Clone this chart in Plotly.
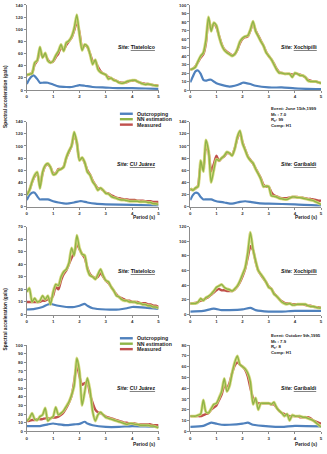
import plotly.graph_objects as go

# Periods (s) of the 0.1 s spectral grid used by measured / NN records
PERIODS = [round(i * 0.1, 1) for i in range(51)]

# ---------------- June 15th, 1999 event ----------------
# Tlatelolco
tla99_nn = [25, 26, 27, 45, 49, 71, 53, 61, 48, 45, 48, 57, 64, 75, 64, 78, 81, 88, 102, 124,
            91, 65, 75, 72, 59, 42, 50, 34, 29, 27, 25, 18, 20, 16, 15, 12, 11, 12, 14, 15,
            16, 16, 14, 12, 10, 9, 10, 9, 8, 7, 7]
tla99_meas = [24, 26, 28, 42, 48, 65, 55, 58, 50, 46, 47, 54, 60, 70, 66, 74, 80, 86, 98, 112,
              95, 70, 73, 71, 60, 48, 47, 38, 31, 27, 25, 21, 19, 17, 15, 13, 12, 12, 13, 15,
              15, 16, 14, 12, 11, 10, 10, 9, 8, 8, 7]
tla99_out_T = [0, 0.1, 0.2, 0.25, 0.3, 0.4, 0.5, 0.6, 0.8, 1.0, 1.2, 1.5, 1.7, 1.9, 2.0, 2.2, 2.5, 3.0, 3.5, 4.0, 4.5, 5.0]
tla99_out = [10, 18, 23, 24, 23, 18, 12, 12, 12, 9, 6, 5, 5, 7, 8, 7, 5, 4, 3, 3, 2.5, 2]

# Xochipilli
xoc99_nn = [24, 25, 27, 34, 40, 44, 59, 86, 69, 79, 76, 63, 53, 47, 44, 42, 40, 42, 48, 57,
            61, 63, 64, 71, 81, 69, 63, 57, 52, 44, 40, 36, 30, 24, 20, 20, 19, 19, 19, 15,
            20, 19, 17, 17, 15, 11, 10, 10, 10, 9, 8]
xoc99_meas = [24, 25, 28, 33, 38, 42, 55, 84, 72, 78, 74, 64, 54, 48, 45, 43, 41, 42, 47, 55,
              60, 62, 63, 70, 79, 70, 64, 58, 52, 45, 40, 36, 31, 25, 21, 20, 19, 19, 19, 18,
              19, 19, 18, 17, 15, 12, 11, 10, 10, 9, 8]
xoc99_out_T = [0, 0.1, 0.2, 0.3, 0.4, 0.5, 0.6, 0.7, 0.8, 0.9, 1.0, 1.2, 1.5, 1.7, 1.9, 2.0, 2.1, 2.3, 2.5, 3.0, 3.5, 4.0, 5.0]
xoc99_out = [9, 16, 22, 23, 19, 12, 11, 12, 12, 10, 8, 6, 4, 5, 7, 8.5, 8.5, 7, 5, 3, 3, 2, 1]

# CU Juárez
cuj99_nn = [19, 27, 41, 52, 57, 30, 57, 68, 71, 65, 53, 54, 60, 62, 65, 81, 92, 100, 123, 106,
            76, 81, 73, 57, 52, 41, 35, 27, 31, 27, 22, 21, 17, 15, 14, 12, 11, 11, 10, 9,
            9, 9, 9, 8, 8, 8, 7, 7, 5, 5, 4]
cuj99_meas = [20, 27, 40, 50, 55, 35, 55, 67, 70, 65, 55, 55, 62, 62, 66, 80, 90, 100, 118, 105,
              78, 80, 72, 60, 53, 43, 36, 30, 30, 27, 23, 22, 19, 17, 15, 14, 13, 12, 12, 11,
              11, 11, 10, 10, 10, 9, 9, 9, 8, 8, 8]
cuj99_out_T = [0, 0.1, 0.2, 0.3, 0.4, 0.5, 0.6, 0.8, 1.0, 1.2, 1.5, 1.8, 2.0, 2.1, 2.3, 2.6, 3.0, 4.0, 5.0]
cuj99_out = [11, 19, 23, 23, 17, 12, 12, 12, 9, 7, 5, 7, 9, 9, 7, 5, 4, 3, 2]

# Garibaldi
gar99_nn = [30, 27, 31, 33, 76, 58, 110, 92, 40, 60, 78, 76, 80, 84, 90, 88, 84, 95, 115, 125,
            104, 93, 82, 76, 72, 62, 54, 45, 33, 34, 33, 18, 17, 16, 14, 13, 12, 12, 14, 16,
            16, 15, 15, 14, 13, 12, 11, 10, 8, 6, 4]
gar99_meas = [28, 28, 30, 35, 70, 62, 100, 90, 58, 70, 84, 75, 80, 83, 88, 88, 85, 96, 112, 122,
              106, 94, 83, 77, 71, 63, 55, 47, 36, 33, 33, 24, 19, 17, 15, 14, 14, 14, 15, 16,
              16, 16, 15, 15, 14, 13, 13, 12, 11, 10, 10]
gar99_out_T = [0, 0.1, 0.2, 0.3, 0.4, 0.5, 0.6, 0.8, 1.0, 1.3, 1.6, 1.9, 2.1, 2.3, 2.6, 3.0, 4.0, 5.0]
gar99_out = [11, 19, 23, 22, 16, 12, 12, 12, 9, 7, 5, 8, 9, 8, 6, 5, 4, 2]

# ---------------- October 9th, 1995 event ----------------
# Tlatelolco
tla95_nn = [18, 21, 10, 13, 10, 11, 15, 12, 15, 8, 18, 24, 23, 30, 34, 36, 41, 53, 47, 63,
            53, 48, 47, 36, 31, 30, 28, 32, 36, 31, 27, 26, 22, 19, 15, 14, 12, 11, 11, 10,
            10, 10, 9, 9, 8, 8, 7, 7, 6, 6, 5]
tla95_meas = [10, 10, 10, 10, 10, 10, 11, 11, 12, 12, 15, 22, 20, 27, 32, 35, 40, 45, 49, 56,
              52, 48, 45, 37, 32, 30, 29, 30, 33, 30, 27, 25, 22, 19, 16, 14, 13, 12, 11, 11,
              10, 10, 10, 9, 9, 9, 8, 8, 7, 7, 6]
tla95_out_T = [0, 0.3, 0.6, 0.8, 0.9, 1.0, 1.2, 1.5, 1.8, 2.0, 2.2, 2.3, 2.5, 3.0, 3.5, 3.8, 4.0, 4.5, 5.0]
tla95_out = [4, 4.5, 6, 8, 8.5, 8, 7, 6, 6, 7, 8.5, 7, 5, 4, 4, 5, 6, 5.5, 4.5]

# Xochipilli
xoc95_nn = [15, 15, 15, 17, 22, 19, 23, 25, 28, 32, 37, 39, 41, 37, 35, 34, 32, 35, 39, 46,
            55, 64, 85, 112, 89, 73, 60, 55, 50, 44, 37, 35, 28, 25, 21, 17, 15, 14, 15, 13,
            13, 14, 14, 14, 14, 12, 11, 11, 10, 9, 9]
xoc95_meas = [15, 15, 16, 17, 19, 20, 22, 24, 27, 30, 33, 35, 33, 33, 32, 32, 32, 34, 38, 44,
              52, 62, 78, 93, 88, 72, 60, 54, 49, 44, 38, 35, 29, 25, 21, 18, 16, 15, 15, 14,
              14, 14, 14, 14, 13, 12, 12, 11, 10, 10, 9]
xoc95_out_T = [0, 0.5, 0.9, 1.2, 1.5, 2.0, 2.3, 2.5, 3.0, 3.5, 4.0, 5.0]
xoc95_out = [4, 5, 8, 6, 6, 7, 9, 6, 4, 4, 5, 5]

# CU Juárez
cuj95_nn = [12, 15, 21, 14, 13, 17, 19, 27, 12, 15, 17, 28, 19, 21, 24, 29, 34, 42, 53, 85,
            70, 30, 46, 62, 48, 23, 12, 19, 22, 19, 16, 15, 14, 13, 12, 11, 10, 9, 8, 9,
            9, 8, 8, 7, 7, 7, 7, 6, 6, 5, 4]
cuj95_meas = [12, 12, 13, 13, 14, 14, 14, 15, 15, 15, 16, 16, 17, 19, 22, 27, 33, 41, 58, 77,
              64, 54, 56, 57, 43, 33, 25, 22, 21, 19, 17, 16, 15, 14, 13, 12, 11, 10, 10, 9,
              9, 9, 8, 8, 8, 8, 8, 8, 7, 7, 7]
cuj95_out_T = [0, 0.5, 0.8, 1.0, 1.2, 1.5, 1.8, 2.0, 2.2, 2.3, 2.5, 3.0, 3.5, 4.0, 4.5, 5.0]
cuj95_out = [6, 6, 8, 9, 8, 7, 8, 8.5, 11, 9, 7, 5, 5, 6, 5.5, 5]

# Garibaldi
gar95_nn = [14, 14, 14, 15, 16, 29, 18, 17, 21, 25, 26, 31, 37, 49, 37, 42, 54, 64, 70, 62,
            60, 58, 54, 46, 25, 31, 20, 26, 26, 26, 26, 25, 27, 22, 19, 17, 14, 16, 10, 15,
            14, 14, 14, 13, 13, 12, 11, 10, 8, 6, 4]
gar95_meas = [14, 14, 14, 14, 14, 15, 16, 17, 20, 22, 24, 29, 34, 42, 40, 45, 54, 61, 64, 62,
              60, 57, 51, 40, 31, 28, 26, 26, 26, 26, 26, 25, 25, 22, 19, 17, 16, 15, 14, 14,
              14, 14, 13, 13, 13, 13, 12, 10, 9, 8, 7]
gar95_out_T = [0, 0.5, 0.8, 1.0, 1.2, 1.5, 2.0, 2.2, 2.4, 3.0, 3.5, 4.0, 5.0]
gar95_out = [4, 5, 8, 7, 6, 6, 7, 8, 6, 4.5, 4, 5, 4.5]

SITES = ["Tlatelolco", "Xochipilli", "CU Juárez", "Garibaldi",
         "Tlatelolco", "Xochipilli", "CU Juárez", "Garibaldi"]
Y_MAX = [140, 100, 140, 140, 70, 120, 100, 80]
Y_STEP = [20, 10, 20, 20, 10, 20, 10, 10]
LEGEND_NAMES = ["Outcropping", "NN estimation", "Measured"]
EVENT_JUNE = ["Event: June 15th,1999", "M<sub>s</sub> : 7.0", "R<sub>e</sub>: 99", "Comp: H1"]
EVENT_OCT = ["Event: October 9th,1995", "M<sub>s</sub> : 7.9", "R<sub>e</sub>: 8", "Comp: H1"]
Y_TITLE = "Spectral acceleration (gals)"
X_TITLE = "Period (s)"

panels = [
    (tla99_nn, tla99_meas, tla99_out_T, tla99_out),
    (xoc99_nn, xoc99_meas, xoc99_out_T, xoc99_out),
    (cuj99_nn, cuj99_meas, cuj99_out_T, cuj99_out),
    (gar99_nn, gar99_meas, gar99_out_T, gar99_out),
    (tla95_nn, tla95_meas, tla95_out_T, tla95_out),
    (xoc95_nn, xoc95_meas, xoc95_out_T, xoc95_out),
    (cuj95_nn, cuj95_meas, cuj95_out_T, cuj95_out),
    (gar95_nn, gar95_meas, gar95_out_T, gar95_out),
]

W, H = 327, 454
BLUE = "#4f81bd"
GREEN = "#8fb447"
HALO = "#d6d97a"
RED = "#c0504d"
FONT = "Liberation Sans, Arial, sans-serif"

# plot-area boxes in pixels: (left, right, top, bottom)
COLS = [(26, 159), (191, 323)]
ROWS = [(3, 89), (121, 207), (227, 316), (347, 434)]

fig = go.Figure()
layout = dict(width=W, height=H, margin=dict(l=0, r=0, t=0, b=0), autosize=False,
              paper_bgcolor="white", plot_bgcolor="white", showlegend=False,
              font=dict(family=FONT, color="#222"))
annotations = []
shapes = []

for i, (nn, meas, out_T, out) in enumerate(panels):
    r, c = divmod(i, 2)
    xl, xr = COLS[c]
    yt, yb = ROWS[r]
    n = i + 1
    xa = "x" if n == 1 else f"x{n}"
    ya = "y" if n == 1 else f"y{n}"
    xkey = "xaxis" if n == 1 else f"xaxis{n}"
    ykey = "yaxis" if n == 1 else f"yaxis{n}"
    axis_common = dict(showline=True, linecolor="#8c8c8c", linewidth=1, ticks="outside",
                       ticklen=2, tickcolor="#8c8c8c", showgrid=False, zeroline=False,
                       tickfont=dict(size=4.4, family=FONT, color="#333", weight="bold"),
                       fixedrange=True)
    layout[xkey] = dict(domain=[xl / W, xr / W], anchor=ya, range=[0, 5], tick0=0, dtick=1,
                        **axis_common)
    layout[ykey] = dict(domain=[1 - yb / H, 1 - yt / H], anchor=xa, range=[0, Y_MAX[i]],
                        tick0=0, dtick=Y_STEP[i], **axis_common)

    fig.add_trace(go.Scatter(x=out_T, y=out, xaxis=xa, yaxis=ya, mode="lines",
                             line=dict(color=BLUE, width=2.2, shape="spline", smoothing=0.6),
                             name=LEGEND_NAMES[0]))
    fig.add_trace(go.Scatter(x=PERIODS, y=meas, xaxis=xa, yaxis=ya, mode="lines",
                             line=dict(color=RED, width=2.4, shape="spline", smoothing=0.6),
                             name=LEGEND_NAMES[2]))
    # light halo under the NN curve
    fig.add_trace(go.Scatter(x=PERIODS, y=nn, xaxis=xa, yaxis=ya, mode="lines",
                             line=dict(color=HALO, width=3.0, shape="spline", smoothing=0.6),
                             opacity=0.9, name=LEGEND_NAMES[1], hoverinfo="skip"))
    fig.add_trace(go.Scatter(x=PERIODS, y=nn, xaxis=xa, yaxis=ya, mode="lines",
                             line=dict(color=GREEN, width=1.4, shape="spline", smoothing=0.6),
                             name=LEGEND_NAMES[1]))

    # site label: italic tag + underlined name
    annotations.append(dict(
        x=0.985, y=0.5, xref=f"{xa} domain", yref=f"{ya} domain", xanchor="right",
        yanchor="middle", showarrow=False,
        text=f"<i>Site:</i> <u>{SITES[i]}</u>",
        font=dict(size=5.2, family=FONT, color="#111", weight="bold")))

# "Period (s)" labels under rows 2 and 4
for yb_px in (218, 447):
    for (xl, xr) in COLS:
        annotations.append(dict(x=(xr - 1) / W, y=1 - yb_px / H, xref="paper", yref="paper",
                                xanchor="right", yanchor="middle", showarrow=False,
                                text=X_TITLE,
                                font=dict(size=4.8, family=FONT, color="#222", weight="bold")))

# vertical axis titles
for yc in (95, 320):
    annotations.append(dict(x=5 / W, y=1 - yc / H, xref="paper", yref="paper",
                            xanchor="center", yanchor="middle", showarrow=False, textangle=-90,
                            text=Y_TITLE,
                            font=dict(size=4.8, family=FONT, color="#222", weight="bold")))

# event descriptions
for y_top, lines in ((103, EVENT_JUNE), (333, EVENT_OCT)):
    annotations.append(dict(x=270 / W, y=1 - y_top / H, xref="paper", yref="paper",
                            xanchor="left", yanchor="top", showarrow=False, align="left",
                            text="<br>".join(lines),
                            font=dict(size=4.3, family=FONT, color="#222", weight="bold")))

# hand-drawn legends (one per event)
for y0 in (113, 340):
    for k, (name, col) in enumerate(zip(LEGEND_NAMES, (BLUE, GREEN, RED))):
        yy = 1 - (y0 + k * 5.5) / H
        shapes.append(dict(type="line", xref="paper", yref="paper", x0=120 / W, x1=133 / W,
                           y0=yy, y1=yy, line=dict(color=col, width=2.4)))
        annotations.append(dict(x=135 / W, y=yy, xref="paper", yref="paper", xanchor="left",
                                yanchor="middle", showarrow=False, text=name,
                                font=dict(size=5.2, family=FONT, color="#222", weight="bold")))

layout["annotations"] = annotations
layout["shapes"] = shapes
fig.update_layout(**layout)
fig.write_html("out.html", config={"displayModeBar": False})
